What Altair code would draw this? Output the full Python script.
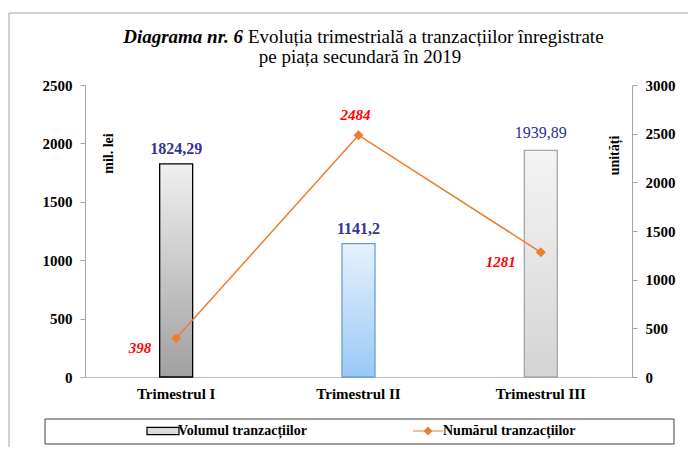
import altair as alt
import pandas as pd

# ---------------- data ----------------
categories = ["Trimestrul I", "Trimestrul II", "Trimestrul III"]
volum = [1824.29, 1141.2, 1939.89]          # mil. lei (left axis)
numar = [398, 2484, 1281]                    # unități (right axis)
serie_volum = "Volumul tranzacțiilor"
serie_numar = "Numărul tranzacțiilor"
title_bold = "Diagrama nr. 6"
title_rest = "Evoluția trimestrială a tranzacțiilor înregistrate"
title_line2 = "pe piața secundară în 2019"
left_title = "mil. lei"
right_title = "unități"
left_ticks = [0, 500, 1000, 1500, 2000, 2500]
right_ticks = [0, 500, 1000, 1500, 2000, 2500, 3000]

FONT = "Liberation Serif"

bars_df = pd.DataFrame({
    "trimestru": categories,
    "volum": volum,
    "eticheta": [str(v).replace(".", ",") for v in volum],
})
line_df = pd.DataFrame({
    "trimestru": categories,
    "numar": numar,
    "serie": [serie_numar] * len(categories),
})


def grad(top, bottom):
    return alt.LinearGradient(
        gradient="linear", x1=0, y1=0, x2=0, y2=1,
        stops=[alt.GradientStop(offset=0, color=top),
               alt.GradientStop(offset=1, color=bottom)],
    )


bar_styles = {
    categories[0]: (grad("#f0f0f0", "#a0a0a0"), "#000000"),
    categories[1]: (grad("#e6f1fd", "#99c9f7"), "#6a9fd6"),
    categories[2]: (grad("#f4f4f4", "#d4d4d4"), "#a6a6a6"),
}

x_enc = alt.X(
    "trimestru:N", sort=categories,
    scale=alt.Scale(domain=categories, paddingInner=0, paddingOuter=0),
    axis=alt.Axis(title=None, labelAngle=0, ticks=False, domainColor="#bfbfbf",
                  labelFont=FONT, labelFontSize=15, labelFontWeight="bold",
                  labelColor="black", labelPadding=9),
)

y_vol = alt.Y(
    "volum:Q", scale=alt.Scale(domain=[0, 2500], nice=False, zero=True),
    axis=alt.Axis(orient="left", values=left_ticks, format="d", grid=False,
                  title=left_title, titleAngle=270, titleX=23, titleY=68,
                  titleAlign="center", titleBaseline="middle", titleFont=FONT,
                  titleFontSize=14, titleFontWeight="bold", titleColor="black",
                  labelFont=FONT, labelFontSize=15, labelFontWeight="bold",
                  labelColor="black", labelPadding=8, tickSize=5,
                  tickColor="#a6a6a6", domainColor="#a6a6a6"),
)

y_num = alt.Y(
    "numar:Q", scale=alt.Scale(domain=[0, 3000], nice=False, zero=True),
    axis=alt.Axis(orient="right", values=right_ticks, format="d", grid=False,
                  title=right_title, titleAngle=270, titleX=-18, titleY=70,
                  titleAlign="center", titleBaseline="middle", titleFont=FONT,
                  titleFontSize=14, titleFontWeight="bold", titleColor="black",
                  labelFont=FONT, labelFontSize=15, labelFontWeight="bold",
                  labelColor="black", labelPadding=8, tickSize=5,
                  tickColor="#a6a6a6", domainColor="#a6a6a6"),
)

one_row = pd.DataFrame({"f": [0]})

# outer frame of the figure
frame = alt.Chart(one_row).mark_rect(
    filled=False, stroke="#a6a6a6", strokeWidth=1
).encode(x=alt.value(-76), x2=alt.value(640), y=alt.value(-72), y2=alt.value(420))

# legend box
legend_box = alt.Chart(one_row).mark_rect(
    fill="white", stroke="#404040", strokeWidth=1
).encode(x=alt.value(-40), x2=alt.value(589), y=alt.value(334), y2=alt.value(359))

bar_layers = []
for cat, (fill, stroke) in bar_styles.items():
    bar_layers.append(
        alt.Chart(bars_df).transform_filter(alt.datum.trimestru == cat)
        .mark_bar(size=33, fill=fill, stroke=stroke, strokeWidth=1.3)
        .encode(x=x_enc, y=y_vol)
    )

lbl_bold = alt.Chart(bars_df).transform_filter(alt.datum.trimestru != categories[2]).mark_text(
    font=FONT, fontSize=16, fontWeight="bold", color="#333399", dy=-15
).encode(x=x_enc, y=y_vol, text="eticheta:N")
lbl_reg = alt.Chart(bars_df).transform_filter(alt.datum.trimestru == categories[2]).mark_text(
    font=FONT, fontSize=16, fontWeight="normal", color="#2e2e8f", dy=-17
).encode(x=x_enc, y=y_vol, text="eticheta:N")

sym_expr = (f"datum.value === '{serie_volum}' ? 'M-4,-0.9H4V0.9H-4Z' : "
            "'M-3.75,0H3.75M0,-0.9L0.9,0L0,0.9L-0.9,0Z'")
stroke_expr = f"datum.value === '{serie_volum}' ? '#000000' : '#ED7D31'"

legend = alt.Legend(
    title=None, orient="none", legendX=54, legendY=334,
    direction="horizontal", columns=2, columnPadding=102, padding=5,
    symbolSize=64, symbolType=alt.ExprRef(expr=sym_expr),
    symbolStrokeColor=alt.ExprRef(expr=stroke_expr), symbolStrokeWidth=1.2,
    symbolOffset=12, labelOffset=8, labelLimit=500,
    labelFont=FONT, labelFontSize=14, labelFontWeight="bold", labelColor="black",
)

line = alt.Chart(line_df).mark_line(color="#ED7D31", strokeWidth=1.5).encode(x=x_enc, y=y_num)
pts = alt.Chart(line_df).mark_point(shape="diamond", filled=True, size=100, opacity=1).encode(
    x=x_enc, y=y_num,
    color=alt.Color("serie:N", scale=alt.Scale(domain=[serie_volum, serie_numar],
                                               range=["#dcdcdc", "#ED7D31"]), legend=legend),
)
num_up = alt.Chart(line_df).transform_filter(alt.datum.trimestru == categories[1]).mark_text(
    font=FONT, fontSize=15, fontWeight="bold", fontStyle="italic", color="#ff0000", dx=-3, dy=-20
).encode(x=x_enc, y=y_num, text=alt.Text("numar:Q", format="d"))
num_side = alt.Chart(line_df).transform_filter(alt.datum.trimestru != categories[1]).mark_text(
    font=FONT, fontSize=15, fontWeight="bold", fontStyle="italic", color="#ff0000",
    align="right", dx=-25, dy=10
).encode(x=x_enc, y=y_num, text=alt.Text("numar:Q", format="d"))

t1 = alt.Chart(pd.DataFrame({"t": [title_bold]})).mark_text(
    font=FONT, fontSize=19, fontWeight="bold", fontStyle="italic", align="right",
    baseline="alphabetic", color="black"
).encode(x=alt.value(158), y=alt.value(-42), text="t:N")
t2 = alt.Chart(pd.DataFrame({"t": [title_rest]})).mark_text(
    font=FONT, fontSize=19, align="left", baseline="alphabetic", color="black", dx=5
).encode(x=alt.value(158), y=alt.value(-42), text="t:N")
t3 = alt.Chart(pd.DataFrame({"t": [title_line2]})).mark_text(
    font=FONT, fontSize=19, align="center", baseline="alphabetic", color="black"
).encode(x=alt.value(275), y=alt.value(-22), text="t:N")

left_group = alt.layer(frame, legend_box, *bar_layers, lbl_bold, lbl_reg)
right_group = alt.layer(line, pts, num_up, num_side)

chart = alt.layer(left_group, right_group, t1, t2, t3).resolve_scale(y="independent").properties(
    width=547, height=292,
    autosize=alt.AutoSizeParams(type="none"),
    padding={"left": 77, "top": 77, "right": 56, "bottom": 70},
    background="white",
).configure_view(stroke=None)

chart.save("out.html", embed_options={"renderer": "svg", "actions": False})
